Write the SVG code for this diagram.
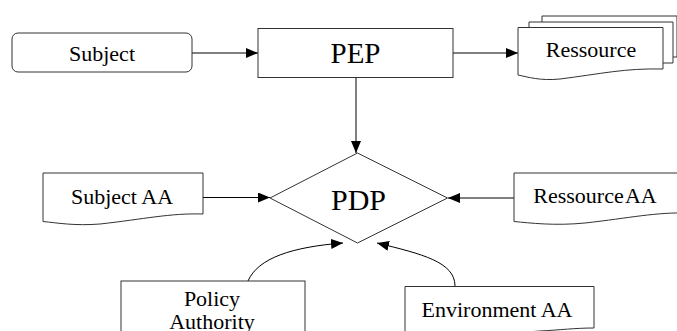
<svg xmlns="http://www.w3.org/2000/svg" width="677" height="331" viewBox="0 0 677 331">
<style>
.shape{fill:#fff;stroke:#333;stroke-width:1}
.edge{fill:none;stroke:#000;stroke-width:1}
</style>
<defs>
<marker id="arr" viewBox="0 0 12 10" refX="12" refY="5" markerWidth="12" markerHeight="10" markerUnits="userSpaceOnUse" orient="auto">
<path d="M0,0 L12,5 L0,10 Z" fill="#000"/>
</marker>
</defs>
<rect width="677" height="331" fill="#fff"/>
<g id="edges">
<path class="edge" d="M192,53 H258" marker-end="url(#arr)"/>
<path class="edge" d="M453,53 H518" marker-end="url(#arr)"/>
<path class="edge" d="M356,78 V153" marker-end="url(#arr)"/>
<path class="edge" d="M203,197.5 H270" marker-end="url(#arr)"/>
<path class="edge" d="M514,198 H448" marker-end="url(#arr)"/>
<path class="edge" d="M248,281 C258,258 292,247 343,243" marker-end="url(#arr)"/>
<path class="edge" d="M455,286 C455,262 422,254 377,243" marker-end="url(#arr)"/>
</g>
<g font-family="Liberation Serif" text-anchor="middle" fill="#000">
<g id="subject">
<rect class="shape" x="12" y="33" width="180" height="39" rx="6"/>
<text x="102" y="61" font-size="22">Subject</text>
</g>
<g id="pep">
<rect class="shape" x="258" y="28.5" width="195" height="49"/>
<text x="355.5" y="63" font-size="29">PEP</text>
</g>
<g id="ressource">
<path class="shape" d="M542,16 H677 V57 H542 Z"/>
<path class="shape" d="M529,22 H673 V63 H529 Z"/>
<path class="shape" d="M518,27.5 H663 V69 C625,68 600,74 560,79 C540,81 528,77 518,75 Z"/>
<text x="591" y="57" font-size="22">Ressource</text>
</g>
<g id="pdp">
<path class="shape" d="M357.5,153 L447.5,198 L357.5,243 L270,198 Z"/>
<text x="358.5" y="210" font-size="30">PDP</text>
</g>
<g id="subject-aa">
<path class="shape" d="M43,173 H203 V214 C170,213 145,219 100,224 C75,226 58,223 43,221.5 Z"/>
<text x="122" y="204" font-size="22">Subject AA</text>
</g>
<g id="ressource-aa">
<path class="shape" d="M514,173 H690 V213 C655,212 630,218 585,223 C555,226 530,223 514,221.5 Z"/>
<text x="595" y="203" font-size="22" word-spacing="-3">Ressource AA</text>
</g>
<g id="policy-authority">
<rect class="shape" x="121" y="281" width="184" height="70"/>
<text x="212" y="306" font-size="22">Policy</text>
<text x="212" y="329" font-size="22">Authority</text>
</g>
<g id="environment-aa">
<path class="shape" d="M405,286.5 H594 V328 C575,328 560,330 540,331 C500,334 440,337 405,334 Z"/>
<text x="497" y="317" font-size="22">Environment AA</text>
</g>
</g>
</svg>
